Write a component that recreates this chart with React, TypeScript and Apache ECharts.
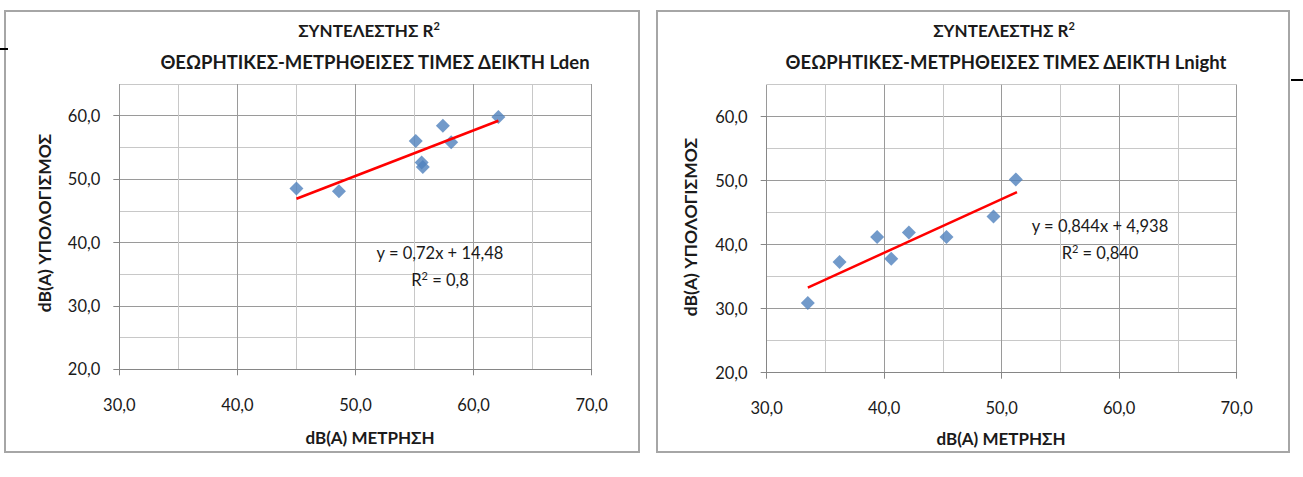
import React, { useEffect, useRef } from "react";
import * as echarts from "echarts";

// ---- data ----
const ldenMeasured = [45.0, 48.6, 55.1, 55.6, 55.7, 57.4, 58.1, 62.1];
const ldenCalculated = [48.5, 48.1, 56.0, 52.6, 51.9, 58.4, 55.8, 59.8];
const ldenTrendX = [45.0, 62.1];
const ldenTrendY = [46.9, 59.2];

const lnightMeasured = [33.5, 36.2, 39.4, 40.6, 42.1, 45.3, 49.3, 51.2];
const lnightCalculated = [30.9, 37.3, 41.2, 37.8, 41.9, 41.2, 44.4, 50.2];
const lnightTrendX = [33.5, 51.3];
const lnightTrendY = [33.3, 48.2];

const xTicks = [30, 40, 50, 60, 70];
const yTicks = [20, 30, 40, 50, 60];

const titleLine1 = "ΣΥΝΤΕΛΕΣΤΗΣ R";
const titleLden = "ΘΕΩΡΗΤΙΚΕΣ-ΜΕΤΡΗΘΕΙΣΕΣ ΤΙΜΕΣ ΔΕΙΚΤΗ Lden";
const titleLnight = "ΘΕΩΡΗΤΙΚΕΣ-ΜΕΤΡΗΘΕΙΣΕΣ ΤΙΜΕΣ ΔΕΙΚΤΗ Lnight";
const xName = "dB(A) ΜΕΤΡΗΣΗ";
const yName = "dB(A) ΥΠΟΛΟΓΙΣΜΟΣ";
const ldenEq = "y = 0,72x + 14,48";
const ldenR2 = " = 0,8";
const lnightEq = "y = 0,844x + 4,938";
const lnightR2 = " = 0,840";

const FONT = "Lato, 'Open Sans', sans-serif";
const TXT = "#1a1a1a";
const MAJOR = "#9a9a9a";
const MINOR = "#c8c8c8";

const fmt = (v: number) => (v % 10 === 0 ? v.toFixed(1).replace(".", ",") : "");

function zip(a: number[], b: number[]) {
  return a.map((v, i) => [v, b[i]]);
}

function linesAxes(gridIndex: number, dim: "x" | "y") {
  return {
    type: "value",
    gridIndex,
    min: dim === "x" ? xTicks[0] : yTicks[0],
    max: dim === "x" ? xTicks[xTicks.length - 1] : 65,
    interval: 5,
    axisLabel: { show: false },
    axisTick: { show: false },
    axisLine: { show: false },
    splitLine: { show: true, lineStyle: { color: [MAJOR, MINOR], width: 1 } },
  };
}

function mainAxis(gridIndex: number, dim: "x" | "y") {
  const ticks = dim === "x" ? xTicks : yTicks;
  return {
    type: "value",
    gridIndex,
    min: ticks[0],
    max: ticks[ticks.length - 1],
    interval: 10,
    axisLine: { show: true, lineStyle: { color: "#868686", width: 1 } },
    axisTick: { show: true, inside: false, length: 6, lineStyle: { color: "#868686" } },
    splitLine: { show: false },
    axisLabel: {
      show: true,
      formatter: fmt,
      margin: dim === "x" ? 27 : 19,
      fontFamily: FONT,
      fontSize: 16.5,
      color: TXT,
    },
  };
}

function text(x: number, y: number, t: string, size: number, bold: boolean, rotation = 0) {
  return {
    type: "text",
    x,
    y,
    rotation,
    style: {
      text: t,
      textAlign: "center",
      textVerticalAlign: "middle",
      align: "center",
      verticalAlign: "middle",
      fontFamily: FONT,
      fontSize: size,
      fontWeight: bold ? "bold" : "normal",
      fill: TXT,
    },
    z: 10,
  };
}

function supText(x: number, y: number, base: string, after: string, size: number, bold: boolean) {
  return {
    type: "text",
    x,
    y,
    style: {
      text: `{t|${base}}{s|2}{t|${after}}`,
      textAlign: "center",
      textVerticalAlign: "middle",
      align: "center",
      verticalAlign: "middle",
      rich: {
        t: { fontFamily: FONT, fontSize: size, fontWeight: bold ? "bold" : "normal", fill: TXT, color: TXT, lineHeight: size + 4 },
        s: { fontFamily: FONT, fontSize: Math.round(size * 0.65), fontWeight: bold ? "bold" : "normal", fill: TXT, color: TXT, verticalAlign: "top", lineHeight: size + 4 },
      },
    },
    z: 10,
  };
}

export default function App() {
  const ref = useRef<HTMLDivElement>(null);
  useEffect(() => {
    if (!ref.current) return;
    const chart = echarts.init(ref.current, null, { renderer: "svg" });
    const option: any = {
      animation: false,
      backgroundColor: "#ffffff",
      grid: [
        { left: 119.3, width: 472.4, top: 84, height: 285.3, outerBoundsMode: "none" },
        { left: 119.3, width: 472.4, top: 115.7, height: 253.6, outerBoundsMode: "none" },
        { left: 766.7, width: 470, top: 84.7, height: 288, outerBoundsMode: "none" },
        { left: 766.7, width: 470, top: 116.7, height: 256, outerBoundsMode: "none" },
      ],
      xAxis: [linesAxes(0, "x"), mainAxis(1, "x"), linesAxes(2, "x"), mainAxis(3, "x")],
      yAxis: [linesAxes(0, "y"), mainAxis(1, "y"), linesAxes(2, "y"), mainAxis(3, "y")],
      series: [
        {
          type: "scatter",
          xAxisIndex: 0,
          yAxisIndex: 0,
          data: zip(ldenMeasured, ldenCalculated),
          symbol: "diamond",
          symbolSize: 14,
          itemStyle: { color: "#4F81BD" },
          z: 3,
        },
        {
          type: "line",
          xAxisIndex: 0,
          yAxisIndex: 0,
          data: zip(ldenTrendX, ldenTrendY),
          showSymbol: false,
          symbol: "none",
          lineStyle: { color: "#ff0000", width: 2.5 },
          z: 4,
        },
        {
          type: "scatter",
          xAxisIndex: 2,
          yAxisIndex: 2,
          data: zip(lnightMeasured, lnightCalculated),
          symbol: "diamond",
          symbolSize: 14,
          itemStyle: { color: "#4F81BD" },
          z: 3,
        },
        {
          type: "line",
          xAxisIndex: 2,
          yAxisIndex: 2,
          data: zip(lnightTrendX, lnightTrendY),
          showSymbol: false,
          symbol: "none",
          lineStyle: { color: "#ff0000", width: 2.5 },
          z: 4,
        },
      ],
      graphic: [
        { type: "rect", shape: { x: 5, y: 11, width: 634, height: 441 }, style: { fill: "none", stroke: "#a6a6a6", lineWidth: 2 }, z: -1 },
        { type: "rect", shape: { x: 657, y: 11, width: 632, height: 441 }, style: { fill: "none", stroke: "#a6a6a6", lineWidth: 2 }, z: -1 },
        { type: "line", shape: { x1: 0, y1: 49, x2: 8, y2: 49 }, style: { stroke: "#000", lineWidth: 2 } },
        { type: "line", shape: { x1: 1291, y1: 80, x2: 1303, y2: 80 }, style: { stroke: "#000", lineWidth: 2 } },
        supText(369, 30, titleLine1, "", 17, true),
        text(375, 62, titleLden, 18.5, true),
        supText(1004, 30, titleLine1, "", 17, true),
        text(1006, 62, titleLnight, 18.5, true),
        text(370, 437, xName, 17, true),
        text(1001, 438, xName, 17, true),
        text(44, 223, yName, 17.5, true, Math.PI / 2),
        text(690, 227, yName, 17.5, true, Math.PI / 2),
        text(440, 253, ldenEq, 16.5, false),
        supText(440, 280, "R", ldenR2, 16.5, false),
        text(1100, 226, lnightEq, 16.5, false),
        supText(1100, 253, "R", lnightR2, 16.5, false),
      ],
    };
    chart.setOption(option);
    return () => chart.dispose();
  }, []);
  return (
    <div
      ref={ref}
      style={{ position: "absolute", left: 0, top: 0, width: 1303, height: 477, background: "#fff" }}
    />
  );
}
